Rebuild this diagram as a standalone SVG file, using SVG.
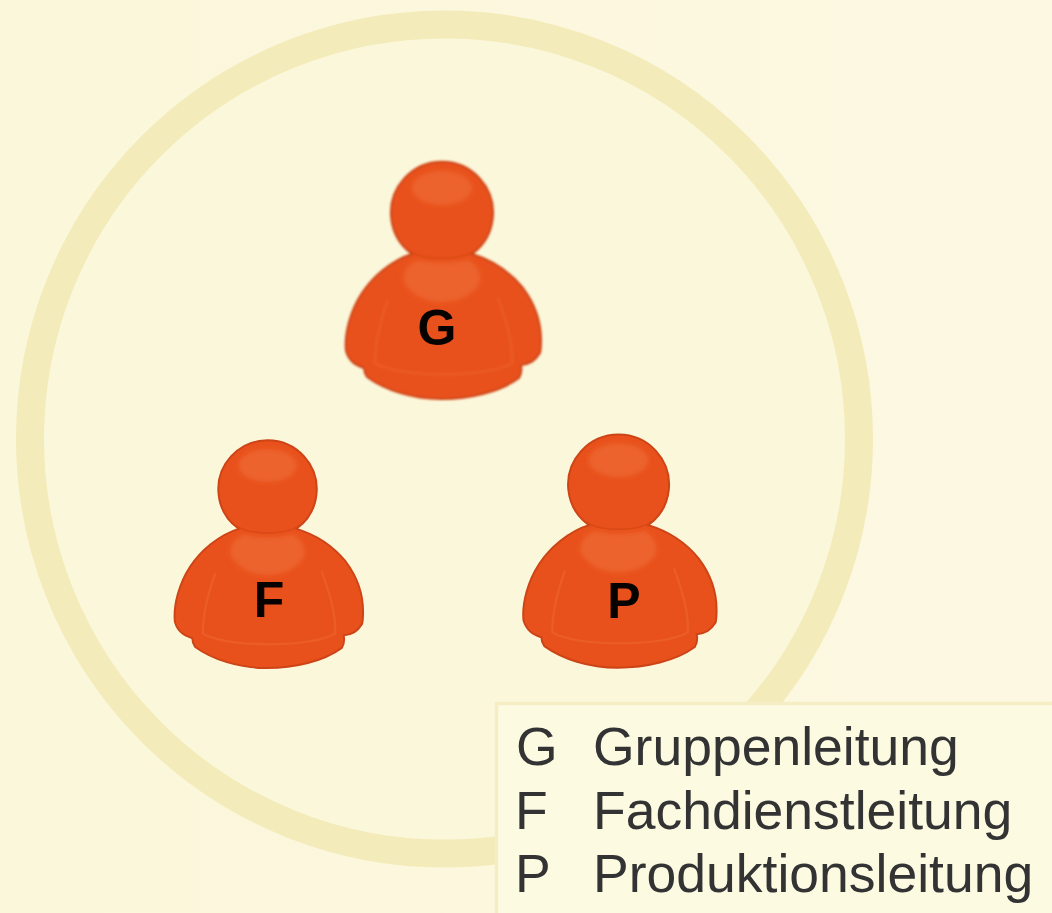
<svg xmlns="http://www.w3.org/2000/svg" width="1052" height="913" viewBox="0 0 1052 913">
<style>
.lbl{font-family:"Liberation Sans",Arial,sans-serif;font-weight:700;font-size:50px;fill:#050200;text-anchor:middle}
.leg{font-family:"Liberation Sans",Arial,sans-serif;font-size:53.500px;fill:#333333}
.crease{fill:none;stroke:#ee6a33;stroke-width:2.500;opacity:.45}
.soft{filter:url(#soft)}
</style>
<defs>
<linearGradient id="bg" x1="0" y1="0" x2="1" y2="0"><stop offset="0" stop-color="#fbf7da"/><stop offset="1" stop-color="#fdf8e2"/></linearGradient>
<filter id="soft" x="-5%" y="-5%" width="110%" height="110%"><feGaussianBlur stdDeviation=".8"/></filter>
<filter id="soft2" x="-10%" y="-10%" width="120%" height="120%"><feGaussianBlur stdDeviation="2"/></filter>
<symbol id="person" overflow="visible">
<g class="soft">
<path d="M412 254A51 51 0 1 1 472 254C492 260 510 272 523 288C535 304 541 322 541 340C541 345 541 349 540 353C535 361 530 364 521 365C522 371 521 375 519 378C500 392 470 399 441 399C412 399 385 390 367 377C365 374 364 371 364 368C355 365 349 361 346 351C345 342 346 333 349 322C355 300 367 283 383 270C392 263 402 257 412 254Z" fill="#e9511c" stroke="#cd4417" stroke-width="2"/>
<ellipse cx="442" cy="188" rx="30" ry="17" fill="#ec642f" filter="url(#soft2)"/>
<path d="M418 260C432 264 452 264 468 260C476 264 481 272 480 281C476 293 460 302 442 302C424 302 410 293 404 282C402 272 408 264 418 260Z" fill="#ec642f" filter="url(#soft2)"/>
<path d="M409 250C422 261 462 261 475 250" fill="none" stroke="#d84a18" stroke-width="1.500"/>
<path class="crease" d="M388 300C380 322 375 342 375 363C398 378 488 378 512 363C513 342 506 320 498 298"/>
</g>
</symbol>
</defs>
<rect id="background" width="1052" height="913" fill="url(#bg)"/>
<circle id="ring" cx="444.500" cy="439" r="414.500" fill="#fbf7db" stroke="#f4ebba" stroke-width="28"/>
<g id="connectors"/>
<g id="node-g"><use href="#person"/><text class="lbl" x="437" y="345">G</text></g>
<g id="node-f"><use href="#person" transform="translate(-159 285) scale(.965 .96)"/><text class="lbl" x="269" y="617">F</text></g>
<g id="node-p"><use href="#person" transform="translate(181 275.500) scale(.99 .983)"/><text class="lbl" x="624" y="618">P</text></g>
<g id="legend">
<rect x="496.500" y="703.500" width="570" height="225" fill="#fdfae2" stroke="#f5eec5" stroke-width="3.500"/>
<text class="leg" x="516" y="765">G</text><text class="leg" x="593" y="765">Gruppenleitung</text>
<text class="leg" x="515" y="829">F</text><text class="leg" x="593" y="829">Fachdienstleitung</text>
<text class="leg" x="515" y="892">P</text><text class="leg" x="593" y="892">Produktionsleitung</text>
</g>
</svg>
